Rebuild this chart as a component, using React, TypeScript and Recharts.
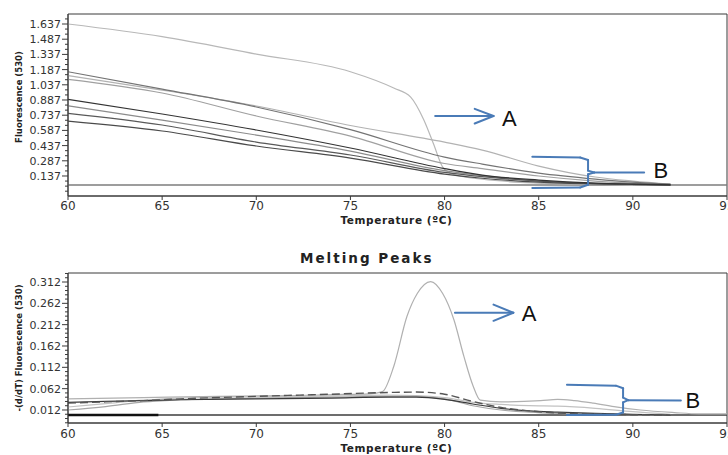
import { LineChart, Line, XAxis, YAxis, ReferenceArea, ReferenceLine, ReferenceDot } from "recharts";

const AXIS = "#3a3a3a";
const BLUE = "#4a7bb7";
const FONT = "'DejaVu Sans', Verdana, sans-serif";

const TEMP_TICKS = [60, 65, 70, 75, 80, 85, 90, 95];

// ---- melting curves (top) ----
const MELT_DOMAIN = [-0.0604, 1.7357];
const MELT_MAJOR = [0.137, 0.287, 0.437, 0.587, 0.737, 0.887, 1.037, 1.187, 1.337, 1.487, 1.637];

const MELT_T = [60, 65, 70, 75, 80, 82, 85, 88, 90, 92];
const MELT_2 = [1.166, 0.995, 0.818, 0.595, 0.324, 0.255, 0.166, 0.107, 0.077, 0.057];
const MELT_3 = [1.127, 0.985, 0.828, 0.635, 0.472, 0.393, 0.235, 0.127, 0.087, 0.057];
const MELT_4 = [1.091, 0.956, 0.729, 0.53, 0.26, 0.21, 0.137, 0.087, 0.067, 0.052];
const MELT_5 = [0.894, 0.749, 0.591, 0.413, 0.21, 0.146, 0.097, 0.067, 0.057, 0.05];
const MELT_6 = [0.83, 0.689, 0.541, 0.383, 0.19, 0.14, 0.087, 0.065, 0.057, 0.05];
const MELT_7 = [0.755, 0.64, 0.472, 0.344, 0.172, 0.13, 0.087, 0.062, 0.055, 0.05];
const MELT_8 = [0.679, 0.581, 0.433, 0.314, 0.156, 0.115, 0.077, 0.06, 0.055, 0.05];

const MELT_1_T = [60, 65, 70, 75, 77.3, 78.2, 78.9, 79.4, 79.9, 80.3, 81, 82, 84, 86, 88, 90];
const MELT_1 = [1.637, 1.512, 1.34, 1.166, 1.005, 0.916, 0.69, 0.46, 0.225, 0.166, 0.13, 0.105, 0.075, 0.062, 0.055, 0.05];

const MELT_BASE_T = [60, 95];
const MELT_BASE = [0.048, 0.048];

// ---- melting peaks (bottom) ----
const PEAK_DOMAIN = [-0.0185, 0.3331];
const PEAK_MAJOR = [0.012, 0.062, 0.112, 0.162, 0.212, 0.262, 0.312];

const PEAK_A_T = [60, 64, 68, 72, 74, 76, 76.7, 77.3, 78, 78.55, 79.26, 79.9, 80.5, 81.03, 81.5, 81.9, 83, 85.1, 86, 86.9, 87.9, 89, 90.4, 92.2, 93.5, 95];
const PEAK_A = [0.038, 0.041, 0.044, 0.046, 0.048, 0.05, 0.055, 0.114, 0.231, 0.285, 0.313, 0.285, 0.223, 0.137, 0.07, 0.035, 0.031, 0.034, 0.037, 0.034, 0.028, 0.02, 0.012, 0.006, 0.003, 0.003];

const PEAK_T = [60, 62, 64, 66, 70, 74, 77, 78.5, 80, 81.5, 83, 84.5, 86, 88, 90, 92];
const PEAK_DASH = [0.028, 0.031, 0.034, 0.038, 0.044, 0.049, 0.053, 0.054, 0.049, 0.032, 0.018, 0.01, 0.005, 0.003, 0.001, 0];
const PEAK_DARK = [0.03, 0.032, 0.034, 0.036, 0.038, 0.04, 0.042, 0.042, 0.037, 0.026, 0.016, 0.01, 0.007, 0.004, 0.002, 0];
const PEAK_L3 = [0.019, 0.027, 0.035, 0.04, 0.043, 0.045, 0.047, 0.046, 0.041, 0.03, 0.025, 0.022, 0.021, 0.016, 0.008, 0.002];
const PEAK_L4 = [0.012, 0.02, 0.031, 0.036, 0.04, 0.042, 0.044, 0.044, 0.038, 0.022, 0.012, 0.007, 0.004, 0.002, 0.001, 0];

const PEAK_BASE_T = [60, 95];
const PEAK_BASE = [0, 0];
const PEAK_BLACK_T = [60, 64.8];
const PEAK_BLACK = [0, 0];

// ---- annotations (data units) ----
const TOP_ARROW = [[79.5, 0.729], [82.6, 0.729]];
const TOP_HEAD = [[81.6, 0.8], [82.6, 0.729], [81.6, 0.655]];
const TOP_BRACE_UP = [[84.66, 0.327], [87.2, 0.32], [87.62, 0.295], [87.62, 0.19], [87.95, 0.172], [90.6, 0.172]];
const TOP_BRACE_LOW = [[87.95, 0.172], [87.62, 0.155], [87.62, 0.05], [87.2, 0.024], [84.66, 0.018]];
const TOP_A = [83.05, 0.712];
const TOP_B = [91.1, 0.198];

const BOT_ARROW = [[80.55, 0.24], [83.65, 0.24]];
const BOT_HEAD = [[82.6, 0.259], [83.65, 0.24], [82.6, 0.221]];
const BOT_BRACE_UP = [[86.5, 0.071], [89.1, 0.069], [89.48, 0.063], [89.48, 0.041], [89.75, 0.035], [92.55, 0.034]];
const BOT_BRACE_LOW = [[89.75, 0.035], [89.48, 0.03], [89.48, 0.006], [89.1, 0.001], [86.5, 0]];
const BOT_A = [84.1, 0.24];
const BOT_B = [92.8, 0.035];

const zip = (ts: number[], vs: number[]) => ts.map((t, i) => ({ t, v: vs[i] }));

function stepTicks(anchor: number, step: number, lo: number, hi: number) {
    const out: number[] = [];
    const kLo = Math.ceil((lo - anchor) / step - 1e-9);
    const kHi = Math.floor((hi - anchor) / step + 1e-9);
    for (let k = kLo; k <= kHi; k++) out.push(Number((anchor + k * step).toFixed(3)));
    return out;
}

const MELT_TICKS = stepTicks(0.137, 0.05, MELT_DOMAIN[0], MELT_DOMAIN[1]);
const PEAK_TICKS = stepTicks(0.012, 0.01, PEAK_DOMAIN[0], PEAK_DOMAIN[1]);

const Y_TICK_SIZE = 6;
const Y_TICK_MARGIN = 2;

const YTick = (props: any) => {
    const { x, y, payload, majors } = props;
    const v = payload.value as number;
    const isMajor = majors.some((m: number) => Math.abs(m - v) < 1e-6);
    const edge = x + Y_TICK_SIZE + Y_TICK_MARGIN;
    return (
        <g>
            <line x1={edge - (isMajor ? 6 : 3)} x2={edge} y1={y} y2={y} stroke={AXIS} strokeWidth={1} />
            {isMajor && (
                <text x={edge - 7} y={y} dy="0.36em" textAnchor="end" fontSize={11} fontFamily={FONT} fill="#333">
                    {v.toFixed(3)}
                </text>
            )}
        </g>
    );
};

const YTitle = (props: any) => {
    const { viewBox, text, dy = 0 } = props;
    if (!viewBox) return null;
    const cx = viewBox.x + 19;
    const cy = viewBox.y + viewBox.height / 2 + dy;
    return (
        <text x={cx} y={cy} transform={`rotate(-90, ${cx}, ${cy})`} textAnchor="middle" dominantBaseline="central"
            fontSize={8.5} fontWeight="bold" fontFamily={FONT} fill="#222">
            {text}
        </text>
    );
};

const XTitle = (props: any) => {
    const { viewBox, dy = 24 } = props;
    if (!viewBox) return null;
    return (
        <text x={viewBox.x + viewBox.width / 2 - 1} y={viewBox.y + dy} textAnchor="middle" dominantBaseline="central"
            fontSize={10.5} fontWeight="bold" fontFamily={FONT} fill="#222" letterSpacing={0.6}>
            Temperature (ºC)
        </text>
    );
};

const segs = (pts: number[][], key: string) =>
    pts.slice(1).map((p, i) => (
        <ReferenceLine
            key={`${key}${i}`}
            segment={[{ x: pts[i][0], y: pts[i][1] }, { x: p[0], y: p[1] }]}
            stroke={BLUE}
            strokeWidth={2}
            strokeLinecap="round"
            ifOverflow="visible"
        />
    ));

const letter = (pos: number[], txt: string) => (
    <ReferenceDot
        key={`lbl${txt}${pos[0]}`}
        x={pos[0]}
        y={pos[1]}
        r={1}
        ifOverflow="visible"
        shape={(p: any) => (
            <text x={p.cx} y={p.cy} dy="0.36em" fontSize={22} fontFamily="'Liberation Sans', Arial, sans-serif" fill="#111">
                {txt}
            </text>
        )}
    />
);

const curve = (data: { t: number; v: number }[], color: string, key: string, width = 1.2, dash?: string) => (
    <Line
        key={key}
        data={data}
        dataKey="v"
        type="monotone"
        stroke={color}
        strokeWidth={width}
        strokeDasharray={dash}
        dot={false}
        activeDot={false}
        isAnimationActive={false}
    />
);

export default function App() {
    return (
        <div style={{ position: "absolute", left: 0, top: 0, width: 728, height: 455, overflow: "hidden", background: "#fff" }}>
            <div style={{ position: "absolute", left: 0, top: 0 }}>
                <LineChart width={760} height={232} margin={{ top: 14, right: 33, bottom: 0, left: 0 }}>
                    <XAxis
                        dataKey="t"
                        type="number"
                        domain={[60, 95]}
                        ticks={TEMP_TICKS}
                        allowDataOverflow
                        height={36}
                        tickSize={4}
                        tickMargin={1}
                        stroke={AXIS}
                        tick={{ fill: "#333", fontSize: 12, fontFamily: FONT }}
                        label={<XTitle dy={24} />}
                    />
                    <YAxis
                        type="number"
                        domain={MELT_DOMAIN}
                        ticks={MELT_TICKS}
                        allowDataOverflow
                        interval={0}
                        width={68}
                        tickSize={Y_TICK_SIZE}
                        tickMargin={Y_TICK_MARGIN}
                        tickLine={false}
                        stroke={AXIS}
                        tick={<YTick majors={MELT_MAJOR} />}
                        label={<YTitle text="Fluorescence (530)" dy={-8} />}
                    />
                    <ReferenceArea x1={60} x2={95} y1={MELT_DOMAIN[0]} y2={MELT_DOMAIN[1]} fill="none" stroke={AXIS} ifOverflow="visible" />
                    {curve(zip(MELT_BASE_T, MELT_BASE), "#7d7d7d", "mb", 1.5)}
                    {curve(zip(MELT_1_T, MELT_1), "#b8b8b8", "m1")}
                    {curve(zip(MELT_T, MELT_3), "#b2b2b2", "m3")}
                    {curve(zip(MELT_T, MELT_4), "#a0a0a0", "m4")}
                    {curve(zip(MELT_T, MELT_6), "#8c8c8c", "m6")}
                    {curve(zip(MELT_T, MELT_2), "#747474", "m2")}
                    {curve(zip(MELT_T, MELT_7), "#595959", "m7")}
                    {curve(zip(MELT_T, MELT_8), "#4a4a4a", "m8")}
                    {curve(zip(MELT_T, MELT_5), "#333333", "m5")}
                    {segs(TOP_ARROW, "ta")}
                    {segs(TOP_HEAD, "th")}
                    {segs(TOP_BRACE_UP, "tbu")}
                    {segs(TOP_BRACE_LOW, "tbl")}
                    {letter(TOP_A, "A")}
                    {letter(TOP_B, "B")}
                </LineChart>
            </div>

            <div
                style={{
                    position: "absolute",
                    left: 300,
                    top: 252,
                    fontFamily: FONT,
                    fontWeight: "bold",
                    fontSize: 13.5,
                    lineHeight: "13.5px",
                    letterSpacing: 2,
                    color: "#222",
                    whiteSpace: "nowrap",
                }}
            >
                Melting Peaks
            </div>

            <div style={{ position: "absolute", left: 0, top: 232 }}>
                <LineChart width={760} height={223} margin={{ top: 41, right: 33, bottom: 0, left: 0 }}>
                    <XAxis
                        dataKey="t"
                        type="number"
                        domain={[60, 95]}
                        ticks={TEMP_TICKS}
                        allowDataOverflow
                        height={32}
                        tickSize={4}
                        tickMargin={2}
                        stroke={AXIS}
                        tick={{ fill: "#333", fontSize: 12, fontFamily: FONT }}
                        label={<XTitle dy={25} />}
                    />
                    <YAxis
                        type="number"
                        domain={PEAK_DOMAIN}
                        ticks={PEAK_TICKS}
                        allowDataOverflow
                        interval={0}
                        width={68}
                        tickSize={Y_TICK_SIZE}
                        tickMargin={Y_TICK_MARGIN}
                        tickLine={false}
                        stroke={AXIS}
                        tick={<YTick majors={PEAK_MAJOR} />}
                        label={<YTitle text="-(d/dT) Fluorescence (530)" dy={0} />}
                    />
                    <ReferenceArea x1={60} x2={95} y1={PEAK_DOMAIN[0]} y2={PEAK_DOMAIN[1]} fill="none" stroke={AXIS} ifOverflow="visible" />
                    {curve(zip(PEAK_BASE_T, PEAK_BASE), "#3c3c3c", "pb", 1.5)}
                    {curve(zip(PEAK_BLACK_T, PEAK_BLACK), "#111111", "pk", 2.5)}
                    {curve(zip(PEAK_T, PEAK_L3), "#c2c2c2", "p3")}
                    {curve(zip(PEAK_T, PEAK_L4), "#a6a6a6", "p4")}
                    {curve(zip(PEAK_A_T, PEAK_A), "#b0b0b0", "pa")}
                    {curve(zip(PEAK_T, PEAK_DARK), "#3a3a3a", "pd")}
                    {curve(zip(PEAK_T, PEAK_DASH), "#555555", "pds", 1.4, "8 4")}
                    {segs(BOT_ARROW, "ba")}
                    {segs(BOT_HEAD, "bh")}
                    {segs(BOT_BRACE_UP, "bbu")}
                    {segs(BOT_BRACE_LOW, "bbl")}
                    {letter(BOT_A, "A")}
                    {letter(BOT_B, "B")}
                </LineChart>
            </div>
        </div>
    );
}
